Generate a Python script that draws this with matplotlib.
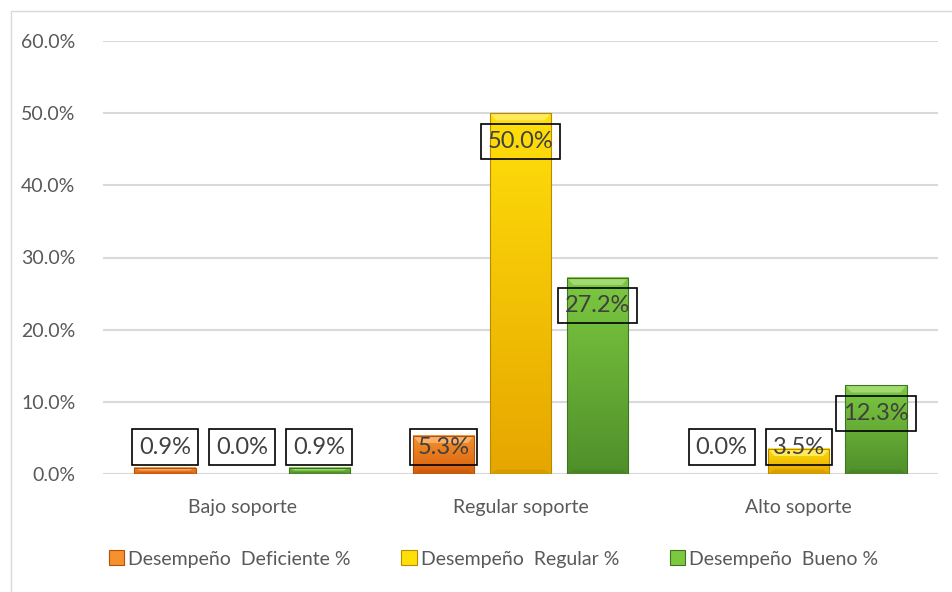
import numpy as np
import matplotlib
matplotlib.use("Agg")
import matplotlib.pyplot as plt
from matplotlib.patches import Polygon, Rectangle, Patch
from matplotlib.colors import to_rgb
from matplotlib.ticker import FuncFormatter

plt.rcParams['font.family'] = ['Lato', 'DejaVu Sans']

categories = ["Bajo soporte", "Regular soporte", "Alto soporte"]
series_names = ["Desempeño  Deficiente %", "Desempeño  Regular %", "Desempeño  Bueno %"]
deficiente = [0.9, 5.3, 0.0]
regular = [0.0, 50.0, 3.5]
bueno = [0.9, 27.2, 12.3]
yticks = [0, 10, 20, 30, 40, 50, 60]

series = [deficiente, regular, bueno]
# (top colour, bottom colour, bevel highlight, edge)
palettes = [
    ("#f5922e", "#d8600c", "#f8b06a", "#b4500c"),
    ("#ffdf0a", "#e6a600", "#ffeb5a", "#b88a00"),
    ("#7cc940", "#4f8f2a", "#a0da70", "#3f7322"),
]

fig = plt.figure(figsize=(9.53, 5.92), dpi=100)
fig.patches.append(Rectangle((11 / 953, -0.01), 1.0, 1 - 11 / 592 + 0.01,
                             transform=fig.transFigure, fill=False,
                             edgecolor="#d9d9d9", linewidth=1.0, zorder=0))
ax = fig.add_axes([103 / 953, 1 - 474 / 592, 835 / 953, 433 / 592])

ax.set_xlim(-0.5, 2.5)
ax.set_ylim(0, 60)
ax.set_yticks(yticks)
ax.yaxis.set_major_formatter(FuncFormatter(lambda v, p: f"{v:.1f}%"))
ax.grid(axis="y", color="#d9d9d9", linewidth=1.5, zorder=0)
ax.set_axisbelow(True)
for s in ax.spines.values():
    s.set_visible(False)
ax.tick_params(axis="both", length=0, colors="#595959", labelsize=14)
ax.tick_params(axis="y", pad=20)
ax.tick_params(axis="x", pad=18)
ax.set_xticks(range(len(categories)))
ax.set_xticklabels(categories)

width = 0.22
offset = 0.277
x = np.arange(len(categories))


def gradient_bar(x0, w, h, top, bottom, hi, edge):
    if h <= 0:
        return
    c_top, c_bot = np.array(to_rgb(top)), np.array(to_rgb(bottom))
    t = np.linspace(0, 1, 128)[:, None]
    img = (c_top * (1 - t) + c_bot * t)[:, None, :]
    ax.imshow(img, extent=(x0, x0 + w, 0, h), aspect="auto",
              origin="upper", zorder=2, interpolation="bilinear")
    # top bevel highlight
    bh = min(1.0, h * 0.45)
    inset = 0.022
    ax.add_patch(Polygon([(x0, h), (x0 + w, h), (x0 + w - inset, h - bh),
                          (x0 + inset, h - bh)], closed=True,
                         facecolor=hi, edgecolor="none", zorder=3))
    # darker bottom bevel
    ax.add_patch(Polygon([(x0, 0), (x0 + w, 0), (x0 + w - inset, bh * 0.6),
                          (x0 + inset, bh * 0.6)], closed=True,
                         facecolor=edge, alpha=0.35, edgecolor="none", zorder=3))
    ax.add_patch(Rectangle((x0, 0), w, h, fill=False, edgecolor=edge,
                           linewidth=0.8, zorder=4))


for i, (vals, pal) in enumerate(zip(series, palettes)):
    pos = x + (i - 1) * offset
    for xp, v in zip(pos, vals):
        gradient_bar(xp - width / 2, width, v, *pal)
        ly = max(v - 3.9, 3.74)
        ax.text(xp, ly, f"{v:.1f}%", ha="center", va="center",
                fontsize=17, color="#404040", zorder=6,
                bbox=dict(boxstyle="square,pad=0.3", facecolor="none",
                          edgecolor="black", linewidth=1.2))

ax.set_xlim(-0.5, 2.5)
ax.set_ylim(0, 60)

handles = [Patch(facecolor=p[0], edgecolor=p[3], linewidth=0.8) for p in palettes]
leg = fig.legend(handles, series_names, loc="center", ncol=3,
                 bbox_to_anchor=(0.518, 1 - 559 / 592), frameon=False,
                 fontsize=14, handlelength=0.8, handleheight=0.8,
                 handletextpad=0.2, columnspacing=2.6, labelcolor="#595959")

fig.savefig("out.png", dpi=100)
